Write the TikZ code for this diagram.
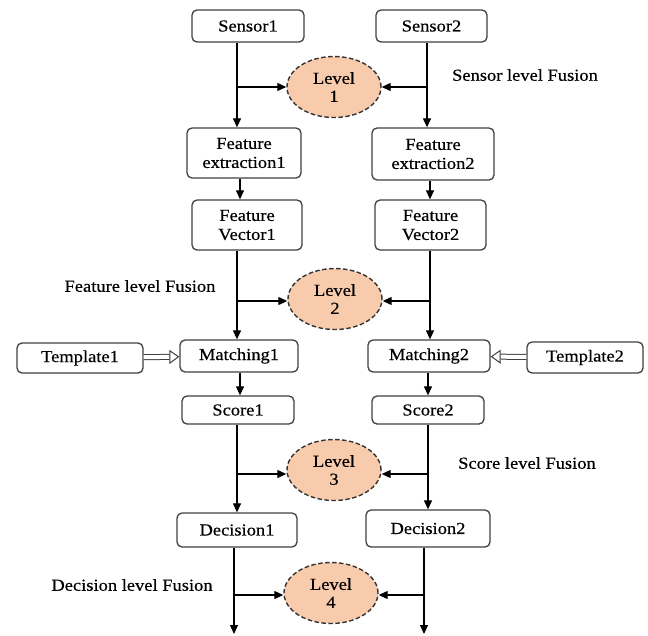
\documentclass[tikz,border=0pt]{standalone}
\usepackage{fontspec}
\setmainfont[FakeStretch=1.1,FakeBold=0.4]{Liberation Serif}
\usetikzlibrary{arrows.meta,shapes.geometric,calc}
\definecolor{peach}{HTML}{F8CBAD}
\begin{document}
\begin{tikzpicture}[x=1pt,y=-1pt,
 box/.style={draw=black!75, line width=1.3pt, rounded corners=5pt, fill=white, align=center, inner sep=0pt, font=\fontsize{16.8}{19}\selectfont},
 lvl/.style={ellipse, draw=black!80, dash pattern=on 4.5pt off 2.5pt, line width=1.4pt, fill=peach, minimum width=94pt, minimum height=61pt, inner sep=0pt, align=center, font=\fontsize{16.8}{18}\selectfont},
 arr/.style={line width=1.2pt, -{Triangle[length=9pt,width=8pt]}},
 hollow/.style={draw=black!75, double=white, double distance=4pt, line width=1pt, -{Triangle[open, length=10pt, width=14pt, fill=white]}},
 lbl/.style={font=\fontsize{16.8}{19}\selectfont, inner sep=0pt}
]
\useasboundingbox (0,0) rectangle (648,635);
% boxes
\node[box, minimum width=112pt, minimum height=32pt] (s1) at (248,26) {Sensor1};
\node[box, minimum width=111pt, minimum height=32pt] (s2) at (431.5,26) {Sensor2};
\node[box, minimum width=114pt, minimum height=50pt] (fe1) at (244,153) {Feature\\extraction1};
\node[box, minimum width=122pt, minimum height=52pt] (fe2) at (433,154) {Feature\\extraction2};
\node[box, minimum width=110pt, minimum height=50pt] (fv1) at (247,225) {Feature\\Vector1};
\node[box, minimum width=111pt, minimum height=50pt] (fv2) at (430.5,225) {Feature\\Vector2};
\node[box, minimum width=126pt, minimum height=30pt] (t1) at (80,358) {Template1};
\node[box, minimum width=118pt, minimum height=32pt] (m1) at (239,356) {Matching1};
\node[box, minimum width=122pt, minimum height=32pt] (m2) at (429,356) {Matching2};
\node[box, minimum width=116pt, minimum height=31pt] (t2) at (585,357.5) {Template2};
\node[box, minimum width=112pt, minimum height=28pt] (sc1) at (238,410) {Score1};
\node[box, minimum width=112pt, minimum height=28pt] (sc2) at (428,410) {Score2};
\node[box, minimum width=120pt, minimum height=34pt] (d1) at (237,530) {Decision1};
\node[box, minimum width=124pt, minimum height=37pt] (d2) at (428,528.5) {Decision2};
% levels
\node[lvl] (lv1) at (334,87) {Level\\1};
\node[lvl] (lv2) at (335,299) {Level\\2};
\node[lvl] (lv3) at (334,470) {Level\\3};
\node[lvl] (lv4) at (331,593) {Level\\4};
% labels
\node[lbl] (l1) at (525,75) {Sensor level Fusion};
\node[lbl] (l2) at (140,286) {Feature level Fusion};
\node[lbl] (l3) at (527,463) {Score level Fusion};
\node[lbl] (l4) at (132,585) {Decision level Fusion};
% column coordinates
\coordinate (a1) at (237,0); \coordinate (a2) at (427,0);
\coordinate (b1) at (240,0); \coordinate (b2) at (430,0);
\coordinate (c1) at (237,0); \coordinate (c2) at (430,0);
\coordinate (e1) at (240,0); \coordinate (e2) at (428,0);
\coordinate (f1) at (237,0); \coordinate (f2) at (428,0);
\coordinate (g1) at (234,0); \coordinate (g2) at (424,0);
\coordinate (end1) at (234,634); \coordinate (end2) at (424,634);
% level 1
\draw[arr] (s1.south -| a1) -- (fe1.north -| a1);
\draw[arr] (s2.south -| a2) -- (fe2.north -| a2);
\draw[arr] (lv1.west -| a1) -- (lv1.west);
\draw[arr] (lv1.east -| a2) -- (lv1.east);
% fe -> fv
\draw[arr] (fe1.south -| b1) -- (fv1.north -| b1);
\draw[arr] (fe2.south -| b2) -- (fv2.north -| b2);
% level 2
\draw[arr] (fv1.south -| c1) -- (m1.north -| c1);
\draw[arr] (fv2.south -| c2) -- (m2.north -| c2);
\draw[arr] ([yshift=-2pt]lv2.west -| c1) -- ([yshift=-2pt]lv2.west);
\draw[arr] ([yshift=-2pt]lv2.east -| c2) -- ([yshift=-2pt]lv2.east);
% templates
\draw[hollow] (t1) -- (m1);
\draw[hollow] (t2) -- (m2);
% m -> score
\draw[arr] (m1.south -| e1) -- (sc1.north -| e1);
\draw[arr] (m2.south -| e2) -- (sc2.north -| e2);
% level 3
\draw[arr] (sc1.south -| f1) -- (d1.north -| f1);
\draw[arr] (sc2.south -| f2) -- (d2.north -| f2);
\draw[arr] ([yshift=-4pt]lv3.west -| f1) -- ([yshift=-4pt]lv3.west);
\draw[arr] ([yshift=-4pt]lv3.east -| f2) -- ([yshift=-4pt]lv3.east);
% level 4
\draw[arr] (d1.south -| g1) -- (end1);
\draw[arr] (d2.south -| g2) -- (end2);
\draw[arr] ([yshift=-2pt]lv4.west -| g1) -- ([yshift=-2pt]lv4.west);
\draw[arr] ([yshift=-2pt]lv4.east -| g2) -- ([yshift=-2pt]lv4.east);
\end{tikzpicture}
\end{document}
